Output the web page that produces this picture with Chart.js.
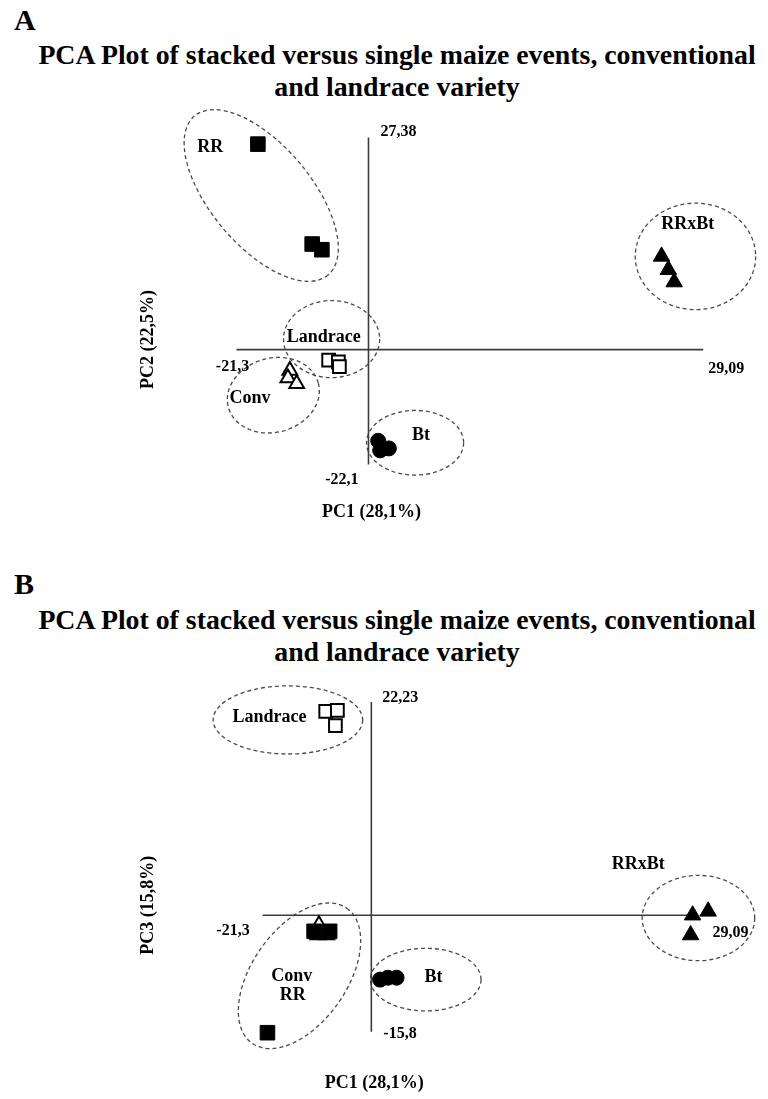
<!DOCTYPE html>
<html>
<head>
<meta charset="utf-8">
<script src="https://cdn.jsdelivr.net/npm/chart.js@4.4.1/dist/chart.umd.min.js"></script>
<style>
  html, body { margin: 0; padding: 0; background: #fff; }
  body { width: 768px; height: 1099px; position: relative; overflow: hidden;
         font-family: "Liberation Serif", "Times New Roman", serif; font-weight: bold; color: #000; }
  .letter { position: absolute; left: 14px; font-size: 30px; line-height: 34px; }
  .title { position: absolute; left: 0; width: 794px; text-align: center; font-size: 27.8px; line-height: 32px; }
  .panel { position: absolute; left: 0; width: 768px; }
  canvas { display: block; }
</style>
</head>
<body>
<div class="letter" style="top:3px">A</div>
<div class="title" style="top:39px">PCA Plot of stacked versus single maize events, conventional<br>and landrace variety</div>
<div class="panel" style="top:92px"><canvas id="chartA" width="768" height="460"></canvas></div>

<div class="letter" style="top:567px">B</div>
<div class="title" style="top:604px">PCA Plot of stacked versus single maize events, conventional<br>and landrace variety</div>
<div class="panel" style="top:665px"><canvas id="chartB" width="768" height="434"></canvas></div>

<script>
// ---- Panel A: PC1 vs PC2 ----
const rrA       = [{x: -18.99, y: 26.38}, {x: -13.13, y: 11.27}, {x: -12.08, y: 10.41}];
const convA     = [{x: -15.54, y: -7.86}, {x: -15.75, y: -9.01}, {x: -14.80, y: -9.87}];
const landraceA = [{x: -11.35, y: -6.28}, {x: -10.30, y: -6.57}, {x: -10.19, y: -7.28}];
const btA       = [{x: -6.00, y: -18.50}, {x: -5.79, y: -19.94}, {x: -4.85, y: -19.65}];
const rrxbtA    = [{x: 24.59, y: 9.40}, {x: 25.32, y: 7.39}, {x: 25.95, y: 5.52}];
const xEndsA = [-21.3, 29.09];
const yEndsA = [-22.1, 27.38];
const crossA = {x: -7.05, y: -4.70};
const ellipsesA = [
  {cx: -18.63, cy: 18.61, rx: 11.21, ry: 7.62, rot: 50},
  {cx: -11.03, cy: -3.11, rx: 5.19, ry: 5.83, rot: 0},
  {cx: -17.32, cy: -11.60, rx: 5.03, ry: 5.61, rot: -15},
  {cx: -2.02, cy: -18.79, rx: 5.24, ry: 4.89, rot: 0},
  {cx: 28.25, cy: 9.40, rx: 6.50, ry: 8.06, rot: 0}
];
const labelsA = [
  {text: 'RR', x: -24.13, y: 25.94},
  {text: 'Landrace', x: -11.87, y: -2.83},
  {text: 'Conv', x: -19.83, y: -12.03},
  {text: 'Bt', x: -1.39, y: -17.64},
  {text: 'RRxBt', x: 27.42, y: 14.29}
];

// ---- Panel B: PC1 vs PC3 ----
const rrB       = [{x: -15.31, y: -4.22}, {x: -13.50, y: -4.22}, {x: -20.74, y: -15.91}];
const convB     = [{x: -14.75, y: -3.45}, {x: -14.86, y: -4.65}, {x: -13.84, y: -4.65}];
const landraceB = [{x: -13.96, y: 21.14}, {x: -12.60, y: 21.25}, {x: -12.83, y: 19.50}];
const btB       = [{x: -7.63, y: -9.79}, {x: -6.73, y: -9.57}, {x: -5.71, y: -9.57}];
const rrxbtB    = [{x: 28.75, y: -2.36}, {x: 30.56, y: -1.92}, {x: 28.52, y: -4.65}];
const xEndsB = [-21.3, 29.09];
const yEndsB = [-15.8, 22.23];
const crossB = {x: -8.65, y: -2.36};
const ellipsesB = [
  {cx: -18.36, cy: 20.15, rx: 8.70, ry: 3.93, rot: 0},
  {cx: -17.01, cy: -9.35, rx: 9.60, ry: 5.46, rot: -55},
  {cx: -2.32, cy: -9.79, rx: 6.44, ry: 3.61, rot: 0},
  {cx: 29.43, cy: -2.69, rx: 6.55, ry: 4.92, rot: 0}
];
const labelsB = [
  {text: 'Landrace', x: -20.51, y: 20.48},
  {text: 'Conv', x: -17.91, y: -9.46},
  {text: 'RR', x: -17.80, y: -11.65},
  {text: 'Bt', x: -1.42, y: -9.57},
  {text: 'RRxBt', x: 22.42, y: 3.54}
];

const fmt = v => String(v).replace('.', ',');
const LABEL_FONT = 'bold 18px "Liberation Serif", serif';
const NUM_FONT = 'bold 16px "Liberation Serif", serif';

// dashed cluster outlines, axis end values, group names and axis titles
const pcaDecor = {
  id: 'pcaDecor',
  beforeDatasetsDraw(chart, args, o) {
    const {ctx, scales: {x, y}} = chart;
    ctx.save();
    ctx.setLineDash([4, 3]);
    ctx.lineWidth = 1.3;
    ctx.strokeStyle = '#4a4a4a';
    o.ellipses.forEach(e => {
      const px = x.getPixelForValue(e.cx), py = y.getPixelForValue(e.cy);
      const rx = Math.abs(x.getPixelForValue(e.cx + e.rx) - px);
      const ry = Math.abs(y.getPixelForValue(e.cy + e.ry) - py);
      ctx.beginPath();
      ctx.ellipse(px, py, rx, ry, e.rot * Math.PI / 180, 0, 2 * Math.PI);
      ctx.stroke();
    });
    ctx.restore();
  },
  afterDatasetsDraw(chart, args, o) {
    const {ctx, chartArea, scales: {x, y}} = chart;
    ctx.save();
    ctx.fillStyle = '#000';
    ctx.textBaseline = 'middle';

    ctx.font = LABEL_FONT;
    ctx.textAlign = 'center';
    o.labels.forEach(l => ctx.fillText(l.text, x.getPixelForValue(l.x), y.getPixelForValue(l.y)));

    // values at the four ends of the axes
    ctx.font = NUM_FONT;
    const ends = [
      [o.yEnds[1], o.cross.x, o.yEnds[1], o.pos.top],
      [o.yEnds[0], o.cross.x, o.yEnds[0], o.pos.bottom],
      [o.xEnds[0], o.xEnds[0], o.cross.y, o.pos.left],
      [o.xEnds[1], o.xEnds[1], o.cross.y, o.pos.right]
    ];
    ends.forEach(([v, vx, vy, p]) => {
      ctx.textAlign = p.align;
      ctx.fillText(fmt(v), x.getPixelForValue(vx) + p.dx, y.getPixelForValue(vy) + p.dy);
    });

    // axis titles
    ctx.font = LABEL_FONT;
    ctx.textAlign = 'center';
    ctx.fillText(o.xTitle, x.getPixelForValue(o.cross.x) + 3, y.getPixelForValue(o.yEnds[0]) + o.xTitleGap);
    ctx.translate(chartArea.left + 137, y.getPixelForValue(o.cross.y) - 10);
    ctx.rotate(-Math.PI / 2);
    ctx.fillText(o.yTitle, 0, 0);
    ctx.restore();
  }
};

function pts(data, style, radius, filled, order) {
  return {
    data, pointStyle: style, pointRadius: radius,
    pointBackgroundColor: filled ? '#000' : '#fff',
    pointBorderColor: '#000',
    pointBorderWidth: filled ? 1 : 2,
    showLine: false, order
  };
}

function axisLine(data) {
  return {data, showLine: true, pointRadius: 0, borderColor: '#3c3c3c', borderWidth: 1.6, order: 20};
}

function makePanel(id, p) {
  return new Chart(document.getElementById(id), {
    type: 'scatter',
    data: {
      datasets: [
        axisLine([{x: p.xEnds[0], y: p.cross.y}, {x: p.xEnds[1], y: p.cross.y}]),
        axisLine([{x: p.cross.x, y: p.yEnds[0]}, {x: p.cross.x, y: p.yEnds[1]}]),
        pts(p.conv, 'triangle', 8.5, false, 6),
        pts(p.landrace, 'rect', 9, false, 5),
        pts(p.rr, 'rect', 10.3, true, 1),
        pts(p.bt, 'circle', 7.5, true, 3),
        pts(p.rrxbt, 'triangle', 9.5, true, 2)
      ]
    },
    options: {
      responsive: false,
      animation: false,
      events: [],
      layout: {padding: 0},
      scales: {
        x: {type: 'linear', display: false, min: p.xMin, max: p.xMax},
        y: {type: 'linear', display: false, min: p.yMin, max: p.yMax}
      },
      plugins: {
        legend: {display: false},
        tooltip: {enabled: false},
        pcaDecor: {
          ellipses: p.ellipses, labels: p.labels,
          xEnds: p.xEnds, yEnds: p.yEnds, cross: p.cross, pos: p.pos,
          xTitle: 'PC1 (28,1%)', yTitle: p.yTitle, xTitleGap: p.xTitleGap
        }
      }
    },
    plugins: [pcaDecor]
  });
}

makePanel('chartA', {
  rr: rrA, conv: convA, landrace: landraceA, bt: btA, rrxbt: rrxbtA,
  xEnds: xEndsA, yEnds: yEndsA, cross: crossA,
  ellipses: ellipsesA, labels: labelsA,
  xMin: -45.61, xMax: 34.86, yMin: -33.61, yMax: 32.56,
  yTitle: 'PC2 (22,5%)', xTitleGap: 48,
  pos: {
    top: {dx: 12, dy: -6, align: 'left'},
    bottom: {dx: -10, dy: 15, align: 'right'},
    left: {dx: -4, dy: 17, align: 'center'},
    right: {dx: 5, dy: 19, align: 'left'}
  }
});

makePanel('chartB', {
  rr: rrB, conv: convB, landrace: landraceB, bt: btB, rrxbt: rrxbtB,
  xEnds: xEndsB, yEnds: yEndsB, cross: crossB,
  ellipses: ellipsesB, labels: labelsB,
  xMin: -50.56, xMax: 36.21, yMin: -22.25, yMax: 25.18,
  yTitle: 'PC3 (15,8%)', xTitleGap: 52,
  pos: {
    top: {dx: 11, dy: -4, align: 'left'},
    bottom: {dx: 12, dy: 2, align: 'left'},
    left: {dx: -13, dy: 16, align: 'right'},
    right: {dx: 17, dy: 18, align: 'left'}
  }
});
</script>
</body>
</html>
